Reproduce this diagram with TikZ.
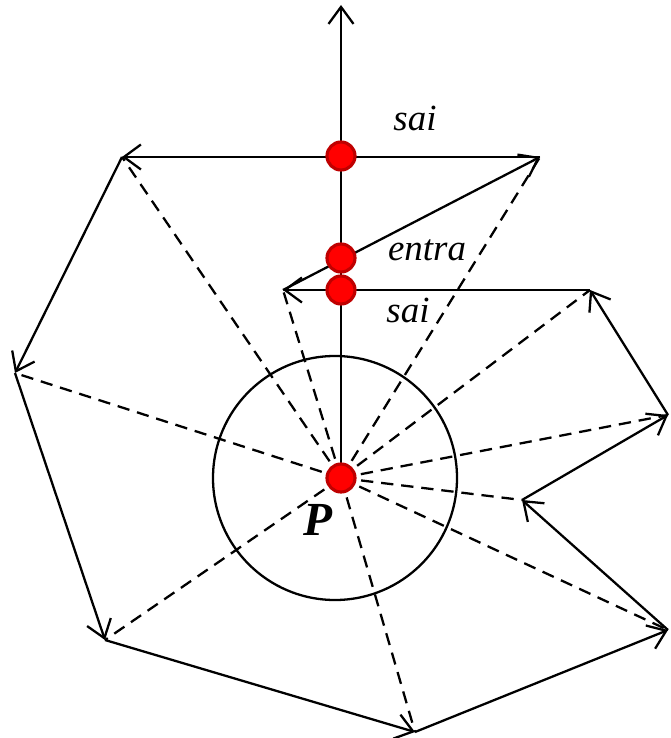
\documentclass[tikz,border=0pt]{standalone}
\usepackage{fontspec}
\setmainfont{Liberation Serif}
\usetikzlibrary{arrows.meta}

\begin{document}
\begin{tikzpicture}[
    edge/.style={draw, line width=1.3pt, -{Straight Barb[length=0.34cm, width=0.5cm, line width=1.3pt]}},
    spoke/.style={draw, line width=1.3pt, dash pattern=on 7pt off 4.5pt},
    dot/.style={circle, fill=red, draw=red!75!black, line width=1.8pt, inner sep=0pt, minimum size=0.56cm},
    lbl/.style={font=\fontsize{21}{23}\selectfont\itshape}
  ]
    \useasboundingbox (0,0) rectangle (13.4,-14.76);

    % vertices of the polygon
    \coordinate (a) at (10.8,-3.14);
    \coordinate (b) at (2.44,-3.14);
    \coordinate (c) at (0.3,-7.46);
    \coordinate (d) at (2.1,-12.8);
    \coordinate (e) at (8.3,-14.64);
    \coordinate (f) at (13.36,-12.6);
    \coordinate (g) at (10.44,-10.0);
    \coordinate (h) at (13.36,-8.3);
    \coordinate (i) at (11.8,-5.8);
    \coordinate (j) at (5.66,-5.8);

    % point and ray
    \coordinate (p) at (6.82,-9.56);
    \coordinate (top) at (6.82,-0.1);
    \coordinate (sai1) at (6.82,-3.12);
    \coordinate (entra) at (6.82,-5.16);
    \coordinate (sai2) at (6.82,-5.8);

    \draw[line width=1.3pt] (6.7,-9.56) circle (2.44);

    \foreach \v in {a,b,c,d,e,f,g,h,i,j}
      \draw[spoke] (p) -- (\v);

    \draw[edge] (a) -- (b);
    \draw[edge] (b) -- (c);
    \draw[edge] (c) -- (d);
    \draw[edge] (d) -- (e);
    \draw[edge] (e) -- (f);
    \draw[edge] (f) -- (g);
    \draw[edge] (g) -- (h);
    \draw[edge] (h) -- (i);
    \draw[edge] (i) -- (j);
    \draw[edge] (j) -- (a);
    \draw[edge] (p) -- (top);

    \node[dot] (sai1dot) at (sai1) {};
    \node[dot] (entradot) at (entra) {};
    \node[dot] (sai2dot) at (sai2) {};
    \node[dot] (pdot) at (p) {};

    \node[lbl] (sai1txt) at (8.3,-2.36) {sai};
    \node[lbl] (entratxt) at (8.54,-5.0) {entra};
    \node[lbl] (sai2txt) at (8.16,-6.2) {sai};
    \node[font=\fontsize{27}{29}\selectfont\bfseries\itshape] (ptxt) at (6.36,-10.4) {P};
\end{tikzpicture}
\end{document}
